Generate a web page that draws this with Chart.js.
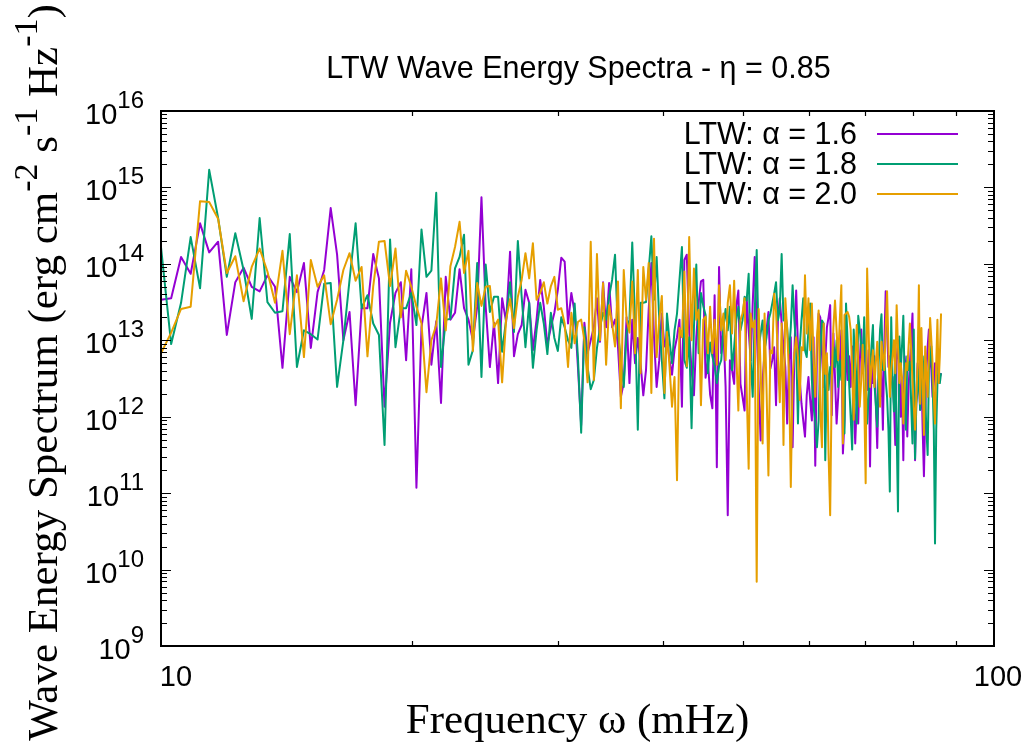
<!DOCTYPE html>
<html><head><meta charset="utf-8">
<script src="https://cdn.jsdelivr.net/npm/chart.js@4.4.1/dist/chart.umd.min.js"></script>
<style>html,body{margin:0;padding:0;background:#fff;}canvas{display:block;}</style>
</head><body>
<canvas id="c" width="1026" height="745" style="width:1026px;height:745px"></canvas>
<script>
// Frequency grid (mHz): uniform spacing
const freqStart = 10.0;
const freqStep = 0.285;

const seriesLabels = ['LTW: \u03b1 = 1.6', 'LTW: \u03b1 = 1.8', 'LTW: \u03b1 = 2.0'];
const seriesColors = ['#9400d3', '#009e73', '#e69f00'];

// Spectrum values stored as log10(erg cm^-2 s^-1 Hz^-1)
const log10E_alpha16 = [
13.53,13.55,14.09,13.87,14.53,14.15,14.29,13.07,13.76,13.95,13.70,13.64,13.85,
13.70,12.64,13.83,13.63,14.01,12.90,13.63,13.92,14.73,14.12,13.00,13.37,12.15,13.42,13.42,14.13,13.81,12.13,
13.23,13.62,13.76,12.74,13.93,11.07,13.17,13.62,12.68,13.25,12.18,13.83,13.27,13.36,13.93,13.42,13.27,13.00,13.44,14.87,13.44,12.65,13.23,12.44,
13.55,13.24,14.16,12.79,13.08,13.20,13.66,13.49,12.87,13.27,13.79,13.44,12.94,13.17,13.36,13.66,14.08,14.03,13.22,13.62,13.36,12.65,11.89,13.23,12.83,13.00,13.17,13.55,12.98,13.76,13.17,13.75,13.17,
13.27,12.92,12.26,12.44,13.30,12.44,13.27,12.70,13.03,12.70,12.28,12.61,13.40,14.01,13.04,12.39,12.74,13.35,12.92,13.04,12.74,12.55,12.88,13.04,13.27,12.13,14.05,14.12,13.10,12.61,12.28,13.04,13.49,13.77,13.79,12.51,12.74,12.29,12.11,13.59,11.34,13.96,12.83,13.13,12.39,10.71,
12.74,12.61,12.43,13.44,13.65,12.43,12.26,12.08,13.57,13.13,12.74,13.48,14.09,13.17,12.39,11.69,12.48,12.85,13.13,13.37,12.63,12.74,12.91,12.15,13.26,13.55,13.22,12.91,12.65,11.91,12.74,13.04,11.60,12.83,13.65,12.91,12.48,12.17,11.95,11.74,12.28,12.52,12.22,11.95,13.04,11.36,12.83,13.35,13.30,12.83,12.39,12.74,13.17,13.30,13.46,12.02,13.09,12.52,11.91,12.26,12.74,13.13,11.52,11.96,
13.14,12.48,12.79,12.39,12.92,12.26,11.65,12.17,11.91,12.70,13.14,12.61,12.92,12.65,12.35,12.87,11.35,12.70,12.44,12.79,12.17,11.59,12.48,12.26,12.61,11.83,12.92,13.64,13.14,12.65,12.79,12.48,12.52,12.17,11.63,12.74,13.00,12.61,12.00,12.48,11.43,12.79,12.57,11.74,12.39,12.70,13.00,13.35,12.35,11.43,12.26,12.70,12.44,12.09,12.61,11.83,11.22,12.00,12.61,12.92,13.14,12.79,12.61,12.26,12.44,12.70,12.57,12.79,12.61,12.52,12.57
];
const log10E_alpha18 = [
14.22,12.95,13.49,14.35,13.68,15.23,14.60,13.83,14.40,13.92,13.28,14.60,13.50,
13.36,13.38,14.39,12.65,13.13,13.08,13.01,13.74,13.75,12.39,13.00,13.79,14.53,13.42,13.59,13.22,13.07,11.63,
14.32,12.91,13.42,13.42,13.62,13.20,14.45,13.83,13.91,14.93,12.65,13.27,13.28,13.94,14.09,14.38,12.68,12.87,14.01,12.52,13.99,13.37,13.57,
13.57,12.85,13.27,13.76,13.11,14.30,13.57,12.91,13.49,12.64,13.13,13.49,13.22,12.82,13.36,13.03,12.86,13.30,13.17,13.00,12.90,13.48,12.78,11.79,13.17,12.65,12.36,12.48,12.90,13.17,13.36,13.27,13.57,13.79,
14.12,13.10,12.74,12.39,13.10,13.27,14.28,13.27,11.83,13.49,13.49,13.50,13.92,14.36,13.53,14.09,13.27,12.74,12.24,13.35,13.00,12.70,13.13,13.35,13.79,14.22,12.74,12.64,13.04,11.85,13.17,13.99,12.83,13.62,13.45,13.33,12.57,12.97,12.79,12.66,12.44,12.66,12.74,13.17,13.41,13.13,
13.44,12.61,12.91,13.26,13.44,13.13,13.26,13.57,13.52,13.87,12.74,12.26,13.35,14.18,12.91,13.09,13.26,12.87,13.04,13.26,13.35,13.48,13.61,13.76,13.26,13.41,14.13,13.26,13.35,13.17,12.83,13.17,13.72,13.26,12.91,11.91,12.91,13.26,13.55,12.87,12.78,13.13,13.48,12.48,12.13,11.95,11.60,11.95,12.83,13.26,13.22,11.43,12.74,12.35,12.65,12.56,12.91,12.65,13.00,12.39,12.74,12.48,12.83,11.78,
13.48,13.00,12.44,12.00,11.57,13.14,12.70,11.91,13.32,13.14,12.94,12.70,13.30,12.61,11.91,12.26,12.61,12.92,13.20,12.44,12.17,11.87,12.70,13.14,13.34,12.61,12.79,12.48,12.26,11.83,11.02,13.30,12.48,12.07,12.70,11.83,10.76,13.05,12.61,12.92,13.32,12.48,11.83,12.79,12.61,12.72,12.17,11.65,13.14,11.45,12.17,12.35,12.61,12.09,12.44,12.79,12.52,12.26,11.83,11.50,12.61,12.79,12.92,12.44,11.83,10.34,11.83,12.44,12.65,12.44,12.57
];
const log10E_alpha20 = [
12.83,13.10,13.41,13.44,14.82,14.81,14.59,13.88,14.10,13.51,13.96,14.20,13.90,
13.49,14.17,13.08,13.85,12.78,14.05,13.70,13.85,13.21,13.53,13.92,14.14,13.78,13.96,12.79,13.71,14.29,14.30,
13.71,14.20,13.30,13.91,13.70,13.44,13.22,12.32,13.00,13.20,13.81,13.13,13.97,14.22,14.55,13.88,14.17,12.86,13.75,13.45,13.70,13.71,13.17,
13.27,12.45,13.27,13.54,13.16,13.57,13.79,14.14,13.81,14.27,13.53,13.62,13.76,13.48,13.71,13.83,13.40,13.42,13.22,12.65,13.36,12.96,13.24,13.27,13.00,12.45,14.29,12.48,14.13,13.00,13.75,12.68,13.46,13.22,
12.92,13.77,12.11,13.92,13.27,13.10,13.77,12.83,13.92,12.57,13.96,13.53,14.01,12.31,14.33,12.78,13.27,13.58,12.31,13.11,12.66,12.13,12.52,11.17,13.16,13.04,13.90,12.66,14.35,13.00,13.94,13.27,13.40,12.15,13.27,13.31,12.83,13.44,12.83,13.27,12.68,13.72,13.13,13.35,12.74,13.49,
13.72,13.09,13.78,12.83,12.08,13.26,13.35,13.55,12.39,11.32,13.35,13.17,13.26,9.84,13.41,12.61,11.65,13.35,12.39,11.23,12.87,12.83,13.61,13.37,12.78,12.19,13.22,11.63,13.55,13.13,12.56,11.08,12.52,12.83,13.04,12.78,12.22,12.91,12.87,13.85,13.09,13.55,12.87,13.48,12.78,12.26,13.04,13.39,12.08,11.60,13.22,12.56,12.83,11.52,10.71,12.48,13.17,13.52,13.13,12.74,13.26,13.72,11.65,13.33,
13.35,13.37,13.31,13.14,12.61,11.96,12.70,13.20,12.70,12.13,12.48,12.94,12.26,11.13,13.94,13.14,12.39,12.65,12.87,12.39,12.70,12.98,12.57,12.13,12.98,12.79,12.61,13.14,13.64,12.92,12.26,12.61,12.79,13.00,12.57,13.46,12.92,12.44,12.70,12.52,11.91,12.35,12.70,12.61,12.92,13.22,12.87,12.48,12.13,11.83,12.26,12.70,13.72,12.17,13.16,12.48,11.76,12.92,12.57,12.26,12.79,13.29,13.00,12.70,12.26,11.91,12.70,13.27,12.44,12.79,13.35
];

const yTickExponents = [9, 10, 11, 12, 13, 14, 15, 16];
const xTickValues = [10, 100];
const xTickLabels = ['10', '100'];
const chartTitle = 'LTW Wave Energy Spectra - \u03b7 = 0.85';
const xAxisTitle = 'Frequency \u03c9 (mHz)';
const yAxisTitleParts = [['Wave Energy Spectrum (erg cm', 0], ['-2', 1], [' s', 0], ['-1', 1], [' Hz', 0], ['-1', 1], [')', 0]];

const seriesLog = [log10E_alpha16, log10E_alpha18, log10E_alpha20];
const freq = log10E_alpha16.map((_, i) => +(freqStart + freqStep * i).toFixed(3));
function toPoints(arr) { return arr.map((e, i) => ({ x: freq[i], y: Math.pow(10, e) })); }

const SANS = '"Liberation Sans", Arial, sans-serif';
const SERIF = '"Liberation Serif", "Times New Roman", serif';

const gp = {
  id: 'gnuplotFrame',
  afterDatasetsDraw(chart) {
    const ctx = chart.ctx, a = chart.chartArea, xs = chart.scales.x, ys = chart.scales.y;
    ctx.save();
    ctx.strokeStyle = '#000';
    ctx.fillStyle = '#000';
    ctx.lineWidth = 1.2;
    ctx.beginPath();
    // y ticks (inward, both sides)
    yTickExponents.forEach(d => {
      const y = Math.round(ys.getPixelForValue(Math.pow(10, d))) + 0.5;
      ctx.moveTo(a.left, y); ctx.lineTo(a.left + 10, y);
      ctx.moveTo(a.right, y); ctx.lineTo(a.right - 10, y);
      if (d < 16) {
        for (let m = 2; m <= 9; m++) {
          const ym = Math.round(ys.getPixelForValue(m * Math.pow(10, d))) + 0.5;
          ctx.moveTo(a.left, ym); ctx.lineTo(a.left + 6, ym);
          ctx.moveTo(a.right, ym); ctx.lineTo(a.right - 6, ym);
        }
      }
    });
    // x minor ticks (inward, top and bottom)
    for (let m = 2; m <= 9; m++) {
      const x = Math.round(xs.getPixelForValue(m * 10)) + 0.5;
      ctx.moveTo(x, a.bottom); ctx.lineTo(x, a.bottom - 5);
      ctx.moveTo(x, a.top); ctx.lineTo(x, a.top + 5);
    }
    ctx.stroke();
    // border
    ctx.lineWidth = 2;
    ctx.strokeRect(a.left, a.top, a.right - a.left, a.bottom - a.top);

    // y tick labels 10^n
    ctx.textBaseline = 'alphabetic';
    ctx.textAlign = 'left';
    yTickExponents.forEach(d => {
      const y = ys.getPixelForValue(Math.pow(10, d));
      ctx.font = '24px ' + SANS;
      const w2 = ctx.measureText(String(d)).width;
      ctx.font = '29px ' + SANS;
      const w1 = ctx.measureText('10').width;
      const R = a.left - 17;
      ctx.fillText('10', R - w2 - w1, y + 13);
      ctx.font = '24px ' + SANS;
      ctx.fillText(String(d), R - w2, y - 3);
    });
    // x tick labels
    ctx.font = '29px ' + SANS;
    ctx.textAlign = 'center';
    xTickValues.forEach((v, i) => {
      const x = xs.getPixelForValue(v);
      const off = i === 0 ? 15 : 4;
      ctx.fillText(xTickLabels[i], x + off, 686);
    });
    // title
    ctx.font = '30.5px ' + SANS;
    ctx.textAlign = 'center';
    ctx.fillText(chartTitle, (a.left + a.right) / 2 + 1, 78);
    // x axis title
    ctx.font = '43px ' + SERIF;
    ctx.fillText(xAxisTitle, (a.left + a.right) / 2, 733);
    // y axis title (rotated, with superscripts)
    ctx.save();
    ctx.translate(57, (a.top + a.bottom) / 2 - 6);
    ctx.rotate(-Math.PI / 2);
    const big = '43px ' + SERIF, small = '34px ' + SERIF;
    let total = 0;
    yAxisTitleParts.forEach(p => { ctx.font = p[1] ? small : big; total += ctx.measureText(p[0]).width; });
    let cx = -total / 2;
    ctx.textAlign = 'left';
    yAxisTitleParts.forEach(p => {
      ctx.font = p[1] ? small : big;
      ctx.fillText(p[0], cx, p[1] ? -20 : 0);
      cx += ctx.measureText(p[0]).width;
    });
    ctx.restore();
    // legend
    ctx.font = '30.5px ' + SANS;
    ctx.textAlign = 'right';
    seriesLabels.forEach((lab, k) => {
      const y = 134 + 30 * k;
      ctx.fillStyle = '#000';
      ctx.fillText(lab, 857, y + 10);
      ctx.strokeStyle = seriesColors[k];
      ctx.lineWidth = 2;
      ctx.beginPath();
      ctx.moveTo(877, y); ctx.lineTo(958, y);
      ctx.stroke();
    });
    ctx.restore();
  }
};

new Chart(document.getElementById('c'), {
  type: 'scatter',
  data: {
    datasets: seriesLog.map((arr, k) => ({
      label: seriesLabels[k],
      data: toPoints(arr),
      showLine: true,
      borderColor: seriesColors[k],
      backgroundColor: seriesColors[k],
      borderWidth: 2,
      borderJoinStyle: 'round',
      pointRadius: 0,
      tension: 0,
      order: 3 - k
    }))
  },
  options: {
    responsive: false,
    animation: false,
    devicePixelRatio: 1,
    events: [],
    layout: { padding: { left: 161, right: 32, top: 111, bottom: 99 } },
    scales: {
      x: { type: 'logarithmic', min: 10, max: 100, display: false },
      y: { type: 'logarithmic', min: 1e9, max: 1e16, display: false }
    },
    plugins: { legend: { display: false }, tooltip: { enabled: false } }
  },
  plugins: [gp]
});
</script>
</body></html>
